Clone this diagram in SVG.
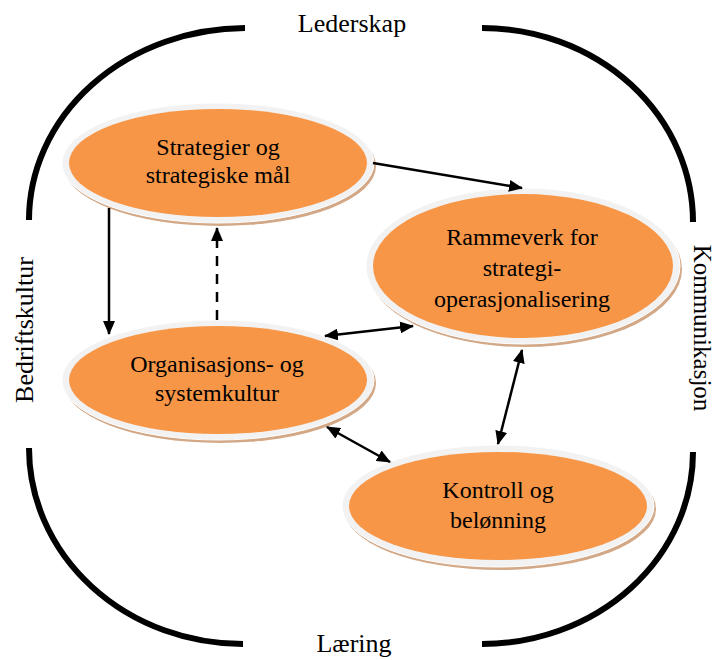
<svg xmlns="http://www.w3.org/2000/svg" width="716" height="660" viewBox="0 0 716 660">
<style>
.lbl{font-family:"Liberation Serif","Times New Roman",serif;font-size:26px;fill:#000;text-anchor:middle}
.txt{font-family:"Liberation Serif","Times New Roman",serif;font-size:24px;fill:#000;text-anchor:middle}
.sh{fill:#D2A887}
.ring{fill:#F2F2F2;stroke:#FFFFFF;stroke-width:1}
.core{fill:#F79646}
.frame{fill:none;stroke:#000;stroke-width:6}
.con{fill:none;stroke:#000;stroke-width:2.5}
</style>
<defs>
<marker id="ah" viewBox="0 0 14 12" refX="13" refY="6" markerWidth="14" markerHeight="12" markerUnits="userSpaceOnUse" orient="auto-start-reverse">
<path d="M0,0 L14,6 L0,12 z" fill="#000"/>
</marker>
</defs>
<g id="frame">
<path class="frame" d="M245,28 A217,192 0 0 0 29,220"/>
<path class="frame" d="M482,28 A211,194 0 0 1 693,222"/>
<path class="frame" d="M29,448 A214,196 0 0 0 243,644"/>
<path class="frame" d="M693,452 A211,192 0 0 1 482,644"/>
<text class="lbl" x="352" y="32">Lederskap</text>
<text class="lbl" x="354" y="652">Læring</text>
<text class="lbl" transform="translate(33,330) rotate(-90)">Bedriftskultur</text>
<text class="lbl" style="font-size:25px" transform="translate(694,328) rotate(90)">Kommunikasjon</text>
</g>
<g id="n1">
<ellipse class="sh" cx="220" cy="166" rx="156" ry="60"/>
<ellipse class="ring" cx="218" cy="163" rx="156" ry="60"/>
<ellipse class="core" cx="218" cy="163" rx="149" ry="54"/>
<text class="txt" x="218" y="155">Strategier og</text>
<text class="txt" x="218" y="183">strategiske mål</text>
</g>
<g id="n2">
<ellipse class="sh" cx="525" cy="269" rx="157" ry="78"/>
<ellipse class="ring" cx="523" cy="266" rx="157" ry="78"/>
<ellipse class="core" cx="523" cy="266" rx="150" ry="72"/>
<text class="txt" x="522" y="245">Rammeverk for</text>
<text class="txt" x="522" y="276">strategi-</text>
<text class="txt" x="522" y="307">operasjonalisering</text>
</g>
<g id="n3">
<ellipse class="sh" cx="220" cy="383" rx="156" ry="60"/>
<ellipse class="ring" cx="218" cy="380" rx="156" ry="60"/>
<ellipse class="core" cx="218" cy="380" rx="149" ry="54"/>
<text class="txt" x="217" y="372">Organisasjons- og</text>
<text class="txt" x="217" y="401">systemkultur</text>
</g>
<g id="n4">
<ellipse class="sh" cx="500" cy="509" rx="156" ry="61"/>
<ellipse class="ring" cx="498" cy="506" rx="156" ry="61"/>
<ellipse class="core" cx="498" cy="506" rx="149" ry="54"/>
<text class="txt" x="498" y="498">Kontroll og</text>
<text class="txt" x="498" y="528">belønning</text>
</g>
<g id="connectors">
<line class="con" x1="373" y1="163" x2="522" y2="188" marker-end="url(#ah)"/>
<line class="con" x1="109" y1="208" x2="109" y2="334" marker-end="url(#ah)"/>
<line class="con" x1="217" y1="320" x2="217" y2="228" stroke-dasharray="10,8" marker-end="url(#ah)"/>
<line class="con" x1="325" y1="336" x2="413" y2="326" marker-start="url(#ah)" marker-end="url(#ah)"/>
<line class="con" x1="522" y1="350" x2="498" y2="444" marker-start="url(#ah)" marker-end="url(#ah)"/>
<line class="con" x1="327" y1="427" x2="390" y2="462" marker-start="url(#ah)" marker-end="url(#ah)"/>
</g>
</svg>
